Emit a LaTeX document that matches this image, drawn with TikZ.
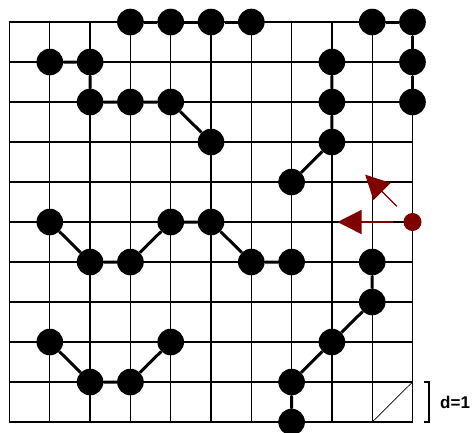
\documentclass[tikz,border=0pt]{standalone}
\usepackage{fontspec}
\setmainfont{Liberation Sans}
\usepackage{tikz}
\usetikzlibrary{calc,arrows.meta}
\definecolor{maroon}{RGB}{128,0,0}

\begin{document}
\begin{tikzpicture}[x=40.3pt,y=-40pt,
  stone/.style={circle,fill=black,inner sep=0pt,minimum size=26.6pt},
  link/.style={line width=3pt},
  probe/.style={circle,fill=maroon,inner sep=0pt,minimum size=18pt},
  movearrow/.style={draw=maroon,line width=1.3pt,-{Triangle[length=24pt,width=24pt]},fill=maroon}]
  \useasboundingbox (-0.2357,-0.55) rectangle (11.501,10.25);
  % lattice 10 x 10
  \foreach \k in {0,...,10}{
    \draw[line width=1.3pt] (\k,0) -- (\k,10);
    \draw[line width=1.3pt] (0,\k) -- (10,\k);
  }
  \draw[line width=0.7pt] (9,10) -- (10,9);
  % occupied sites
  \foreach \i/\j in {3/0,4/0,5/0,6/0,9/0,10/0,10/1,10/2,
                     1/1,2/1,2/2,3/2,4/2,5/3,
                     8/1,8/2,8/3,7/4,
                     1/5,2/6,3/6,4/5,5/5,6/6,7/6,
                     9/6,9/7,8/8,7/9,7/10,
                     1/8,2/9,3/9,4/8}{
    \node[stone] (s-\i-\j) at (\i,\j) {};
  }
  % chains
  \draw[link] (s-3-0) -- (s-4-0) -- (s-5-0) -- (s-6-0);
  \draw[link] (s-9-0) -- (s-10-0) -- (s-10-1) -- (s-10-2);
  \draw[link] (s-1-1) -- (s-2-1) -- (s-2-2) -- (s-3-2) -- (s-4-2) -- (s-5-3);
  \draw[link] (s-8-1) -- (s-8-2) -- (s-8-3) -- (s-7-4);
  \draw[link] (s-1-5) -- (s-2-6) -- (s-3-6) -- (s-4-5) -- (s-5-5) -- (s-6-6) -- (s-7-6);
  \draw[link] (s-9-6) -- (s-9-7) -- (s-8-8) -- (s-7-9) -- (s-7-10);
  \draw[link] (s-1-8) -- (s-2-9) -- (s-3-9) -- (s-4-8);
  % moving end and its two moves
  \node[probe] (head) at (10,5) {};
  \coordinate (westtip) at ($(head)+(-75pt,0)$);
  \coordinate (diagtip) at ($(head)+(135:67pt)$);
  \draw[movearrow,shorten <=10pt] (head) -- (westtip);
  \draw[movearrow,shorten <=13pt] (head) -- (diagtip);
  % cell size
  \coordinate (brtop) at ($(10,9)+(11pt,0)$);
  \coordinate (brbot) at ($(10,10)+(11pt,0)$);
  \draw[line width=1.2pt] (brtop) -- ++(5.5pt,0) -- ($(brbot)+(5.5pt,0)$) -- (brbot);
  \node[anchor=west,inner sep=0pt,font=\fontsize{17}{20}\selectfont\bfseries] (dlabel) at ($(10,9.5)+(27.5pt,0)$) {d=1};
\end{tikzpicture}
\end{document}
